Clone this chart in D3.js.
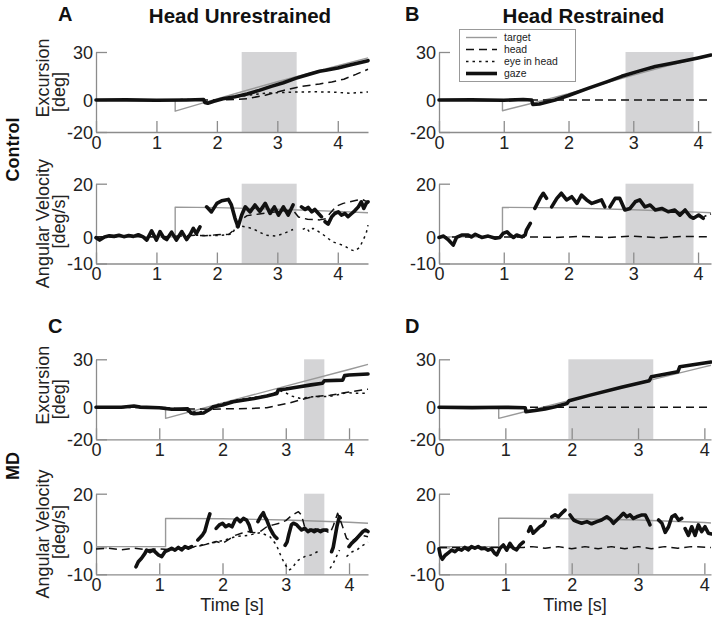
<!DOCTYPE html>
<html>
<head>
<meta charset="utf-8">
<script src="https://cdn.jsdelivr.net/npm/d3@7"></script>
<style>
  html, body { margin: 0; padding: 0; background: #fff; }
  svg { display: block; font-family: "Liberation Sans", Arial, Helvetica, sans-serif; }
</style>
</head>
<body>
<svg id="chart" width="712" height="619"></svg>
<script>
// ---------------- DATA ----------------
const xTicks = [0, 1, 2, 3, 4];
const excTicks = [-20, 0, 30];
const velTicks = [-10, 0, 20];
const excDomain = [-20, 30];
const velDomain = [-10, 20];
const xMaxes = { A: 4.5, B: 4.2, C: 4.3, D: 4.1 };
const shadeA = [2.41, 3.32];
const shadeB = [2.88, 3.93];
const shadeC = [3.29, 3.61];
const shadeD = [1.95, 3.23];
const legendLabels = ["target", "head", "eye in head", "gaze"];

// Panel A - excursion
const aExcTarget = [[0,0],[1.31,0],[1.31,-7],[2,0.7],[2.5,6.1],[3,11.4],[3.5,16.5],[4,21.4],[4.5,26.3]];
const aExcHead = [[0,0],[1.8,0],[2.0,0],[2.3,0.3],[2.5,0.8],[2.8,3],[3.1,6],[3.4,8.5],[3.7,10],[3.9,11.3],[4.1,13],[4.3,16],[4.5,19.2]];
const aExcEye = [[0,0],[1.78,0.3],[1.85,-2],[1.95,-0.8],[2.1,0.8],[2.3,1.7],[2.5,2.9],[2.8,4.2],[3.0,4.6],[3.3,5],[3.6,5.1],[3.9,5],[4.2,4.2],[4.5,5]];
const aExcGaze = [[0,0],[0.5,0.1],[1,-0.2],[1.5,0],[1.78,0.3],[1.8,-1.5],[1.85,-2],[1.95,-0.8],[2.1,0.8],[2.3,2],[2.5,3.7],[2.7,6],[2.9,8.5],[3.1,10.8],[3.3,13.5],[3.5,15.8],[3.7,18],[3.8,18.6],[4.0,20],[4.2,21.8],[4.5,24.6]];

// Panel A - velocity
const aVelTarget = [[0,0],[1.31,0],[1.31,11.2],[2,11],[3,10.4],[4,9.6],[4.5,9.1]];
const aVelHead = [[0,0],[0.5,0.2],[1.0,0],[1.4,0.3],[1.65,0.6],[1.8,0.4],[2.0,0.8],[2.2,1],[2.3,3],[2.4,6.5],[2.5,8],[2.7,8.6],[2.9,9.2],[3.1,9.8],[3.26,10],[3.35,7.5],[3.5,6.6],[3.7,6.4],[3.8,6.8],[3.87,8.8],[3.98,11.6],[4.09,12.6],[4.2,13.2],[4.31,13.8],[4.4,14.1],[4.45,13.6],[4.5,13.2]];
const aVelEye = [[1.65,0.6],[2.0,0.5],[2.25,1],[2.33,4.4],[2.47,3.8],[2.58,3.2],[2.69,2],[2.8,0.7],[2.97,0.3],[3.09,1.1],[3.21,2.3],[3.26,2.8],null,[3.42,2.8],[3.48,3.5],[3.53,1.9],[3.59,3.2],[3.64,2.6],[3.75,1.0],[3.84,-0.6],[3.92,-1.9],[4.03,-2.7],[4.12,-3.5],[4.2,-4.7],[4.28,-5.3],[4.36,-4],[4.42,-1.2],[4.47,1.3],[4.5,4.4]];
const aVelGaze = [[0,-0.3],[0.06,-1.2],[0.14,0],[0.22,0.4],[0.3,0.2],[0.38,0.6],[0.46,0.1],[0.54,0.5],[0.62,0.2],[0.7,0.8],[0.78,0],[0.84,-1.2],[0.92,2.3],[1.0,-1.2],[1.06,2],[1.12,-0.3],[1.17,-1],[1.25,1.8],[1.33,-1.2],[1.42,2],[1.5,-1],[1.56,1],[1.61,3.2],[1.66,1.2],[1.72,3.8],
  null,
  [1.83,11.3],[1.91,9.4],[2.0,12.6],[2.08,13.6],[2.19,14.1],[2.24,12],[2.3,7],[2.35,3.8],[2.41,8.2],[2.47,11.3],[2.55,9.4],[2.63,12],[2.71,9.6],[2.8,12.6],[2.88,8.8],[2.95,11.3],[3.02,8.2],[3.1,11.3],[3.18,8.2],[3.26,12],
  null,
  [3.40,11.3],[3.46,10.3],[3.51,11.1],[3.57,9.4],[3.62,10.3],[3.68,8.8],[3.73,7.6],
  null,
  [3.79,5.7],[3.84,4.8],[3.90,7.6],[3.95,8.8],[4.01,9.4],[4.06,8.2],[4.12,8.8],[4.17,7.6],[4.23,8.8],[4.28,9.8],[4.34,11.3],[4.39,13.2],[4.43,10.7],[4.47,12.6],[4.5,13.2]];

// Panel B - excursion
const bExcTarget = [[0,0],[0.98,0],[0.98,-6.7],[1.5,-1.4],[2,4],[2.5,9.8],[3,15.5],[3.5,21],[4,26],[4.2,28]];
const bExcHead = [[0,0],[4.2,0]];
const bExcGaze = [[0,0],[0.5,0.1],[1.0,-0.2],[1.3,0.3],[1.43,0],[1.45,-2.8],[1.55,-2.5],[1.79,0],[2.0,2.8],[2.3,7.3],[2.6,11.5],[2.82,14.8],[3.1,18.2],[3.34,21],[3.6,23],[3.85,25],[4.0,26.3],[4.2,28.1]];
const bExcEye = bExcGaze;

// Panel B - velocity
const bVelTarget = [[0,0],[0.98,0],[0.98,11.1],[2,10.9],[3,10.2],[4,9.3],[4.2,9.1]];
const bVelHead = [[0,0],[1.4,0],[1.8,-0.2],[2.2,0.2],[2.6,-0.2],[3.0,0.3],[3.4,-0.3],[3.8,0.2],[4.2,0]];
const bVelGaze = [[0,-0.2],[0.07,0.3],[0.14,-1],[0.22,-3.1],[0.27,-0.2],[0.35,0.7],[0.45,0.7],[0.5,0],[0.56,1],[0.66,-0.2],[0.76,0.3],[0.87,-0.5],[0.94,-0.2],[0.99,1.3],[1.05,1.9],[1.1,0.7],[1.15,-0.2],[1.2,0.7],[1.28,0],[1.33,0.7],[1.35,2.5],[1.41,5.1],
  null,
  [1.48,10.7],[1.56,14.5],[1.61,16.4],[1.66,14.5],
  null,
  [1.74,11.3],[1.82,14.5],[1.89,16.4],[1.97,13.9],[2.05,15.1],[2.13,12.6],[2.2,15.7],[2.28,13.9],[2.36,12.6],[2.43,13.2],[2.51,13.9],[2.56,11.3],
  null,
  [2.64,11.3],[2.72,14.5],[2.79,14.5],[2.87,10.1],[2.95,10.7],[3.03,13.2],[3.1,13.9],[3.18,11.3],[3.26,12],[3.34,10.1],[3.44,10.7],[3.54,9.45],[3.64,10.1],[3.72,8.2],[3.8,10.1],[3.88,7.6],[3.93,7],[4.01,8.2],[4.08,7]];
const bVelEye = [[4.0,8.0],[4.08,7.4],[4.14,8.2],[4.2,8.6]];

// Panel C - excursion
const cExcTarget = [[0,0],[1.1,0],[1.1,-6.9],[2,2.7],[3,13.2],[4,23.6],[4.3,26.8]];
const cExcHead = [[0,0],[1.0,0],[1.2,-0.8],[1.5,-1],[1.8,-1.2],[2.0,-1],[2.4,-0.8],[2.7,-0.3],[2.9,1.5],[3.07,2.8],[3.22,4.5],[3.43,6.6],[3.7,7.5],[3.95,9.2],[4.3,11.3]];
const cExcEye = [[0,0],[1.0,-0.3],[1.2,-0.5],[1.5,-3],[1.75,-2.5],[1.85,1],[2.2,4.4],[2.5,6.2],[2.7,7.3],[2.85,9.5],[2.91,10.5],[3.0,9],[3.1,7],[3.22,5.6],[3.43,6.6],[3.7,6.8],[3.9,8.5],[3.95,9.2],[4.1,8.8],[4.3,8.7]];
const cExcGaze = [[0,0],[0.4,0],[0.6,0.8],[0.7,0.1],[1.0,-0.3],[1.2,-1.2],[1.45,-1],[1.5,-3.5],[1.55,-4],[1.7,-3.6],[1.78,-1.7],[1.86,0.4],[2.0,1.5],[2.17,3.5],[2.5,5.5],[2.7,7.1],[2.86,8.7],[2.88,10.8],[3.0,11.4],[3.22,12.9],[3.4,14],[3.58,15],[3.61,16.6],[3.9,17],[3.93,19.8],[4.0,20.2],[4.3,20.8]];

// Panel C - velocity
const cVelTarget = [[0,0.3],[1.1,0.3],[1.1,10.8],[2,10.7],[3,10.2],[4,9.4],[4.3,9.0]];
const cVelHead = [[0,-0.6],[0.2,-0.3],[0.4,-0.9],[0.6,-0.3],[0.8,-0.9],[1.0,-0.5],[1.2,-0.9],[1.4,-0.3],[1.6,0.3],[1.8,1.5],[1.9,2.2],[2.0,1.5],[2.1,3],[2.2,4.5],[2.3,5.3],[2.4,5.9],[2.5,5.5],[2.6,6],[2.7,7.7],[2.8,8.4],[2.9,9],[3.0,10],[3.1,12],[3.2,13.3],[3.25,12],[3.3,7.5],[3.4,6.5],[3.5,7.1],[3.6,6.5],[3.7,5.3],[3.75,8],[3.82,12.7],[3.88,9],[3.96,3.4],[4.04,2.2],[4.17,4.6],[4.3,4]];
const cVelEye = [[1.55,0.3],[1.8,1.5],[2.0,2.5],[2.2,4],[2.4,4.5],[2.6,5.5],[2.75,4],[2.85,1],[2.92,-3],[2.98,-6],[3.05,-8.4],[3.1,-7.8],[3.15,-6],[3.2,-4.7],[3.3,-3.4],[3.4,-2.8],[3.5,-1.6],[3.56,-1],
  null,
  [3.7,-7.8],[3.75,-6],[3.8,-3.4],[3.85,-1],
  null,
  [3.96,-3.4],[4.05,-1.6],[4.12,-1],[4.2,0.5],[4.3,2]];
const cVelGaze = [[0.632,-7.2],[0.669,-5.3],[0.72,-4],[0.774,-2.2],[0.8,-1],[0.853,-1.6],[0.906,-1],[0.96,-2.2],[0.985,-2.8],[1.04,-3.4],[1.09,-1.6],[1.143,-1],[1.196,-0.3],[1.249,-1],[1.302,0],[1.354,-0.9],[1.407,0.3],[1.459,-0.3],[1.512,0.3],
  null,
  [1.61,2.8],[1.64,3.5],[1.68,4.5],[1.72,6],[1.76,9.5],[1.8,12.5],
  null,
  [1.9,7.1],[1.95,8.4],[2.0,9],[2.05,7.7],[2.1,8.4],[2.15,7.7],[2.2,10.2],[2.23,10.8],[2.28,9.6],[2.33,10.8],[2.38,10.2],[2.42,8.4],[2.45,6],
  null,
  [2.56,9.6],[2.6,11.4],[2.645,12.9],[2.67,11.4],[2.7,10.2],[2.75,7.1],[2.8,5],[2.83,4],[2.86,3.4],
  null,
  [2.99,0.8],[3.02,2],[3.05,5],[3.09,8.5],[3.12,9],[3.17,8.5],[3.2,7.7],[3.25,6.5],[3.3,7.1],[3.35,5.9],[3.4,6.5],[3.45,5.9],[3.5,6.5],[3.55,5.9],[3.6,6.5],[3.65,6.5],
  null,
  [3.725,-1.6],[3.75,0],[3.78,4],[3.81,8],[3.847,11.4],[3.86,11],
  null,
  [4.0,0.3],[4.04,1.5],[4.1,2.8],[4.17,4.6],[4.22,5.9],[4.26,6.5],[4.3,5.9]];

// Panel D - excursion
const dExcTarget = [[0,0],[0.9,0],[0.9,-6.9],[2,4.6],[3,15.1],[4,25.3],[4.1,26.3]];
const dExcHead = [[0,0],[4.1,0]];
const dExcGaze = [[0,0],[0.5,-0.2],[1.0,0],[1.3,-0.3],[1.31,-2.7],[1.45,-2],[1.6,-1],[1.75,0.4],[1.93,2.4],[1.96,4.1],[2.25,7.3],[2.75,12.5],[3.17,16.6],[3.2,19.1],[3.6,22.2],[3.63,25.4],[4.1,28.3]];
const dExcEye = dExcGaze;

// Panel D - velocity
const dVelTarget = [[0,0.3],[0.9,0.3],[0.9,10.9],[2,10.7],[3,10.2],[4,9.3],[4.1,9.1]];
const dVelHead = [[0,0],[1.27,0],[1.4,0.3],[1.6,-0.3],[1.8,0.3],[2.0,-0.5],[2.2,0.3],[2.4,-0.5],[2.6,0.3],[2.8,-0.5],[3.0,0.3],[3.2,-0.5],[3.4,0.3],[3.6,-0.3],[3.8,0.3],[4.1,0]];
const dVelGaze = [[0,-0.5],[0.02,-3],[0.05,-4.4],[0.09,-3],[0.14,-2],[0.19,-1],[0.24,-1.6],[0.29,-0.5],[0.34,-1],[0.39,0],[0.44,-0.9],[0.49,0.3],[0.54,-0.3],[0.59,0.3],[0.64,-0.5],[0.69,-0.3],[0.74,-1],[0.79,-0.5],[0.84,-2.2],[0.87,-2.8],[0.92,-0.3],[0.97,0.9],[1.02,-1],[1.07,1.5],[1.12,-0.3],[1.17,-0.9],[1.22,0.9],[1.27,2],
  null,
  [1.35,6],[1.38,7.7],[1.42,5.3],[1.47,6.5],[1.52,7.7],[1.57,8.4],[1.6,9.6],
  null,
  [1.7,11.4],[1.75,12.1],[1.8,11.4],[1.85,12.7],[1.9,13.9],
  null,
  [1.975,12.1],[2.03,10.2],[2.08,9.6],[2.15,9],[2.23,9.6],[2.3,8.8],[2.38,9.6],[2.45,10.2],[2.53,11.4],[2.58,10.5],[2.63,9],[2.68,10.2],[2.73,11.4],[2.78,12.7],[2.83,11.4],[2.88,12.1],[2.93,10.8],[2.98,11.4],[3.06,12.1],[3.11,12.1],[3.16,9.6],[3.18,8.4],
  null,
  [3.31,10.2],[3.36,9],[3.41,5.6],[3.46,7.7],[3.51,11.4],[3.56,12.1],[3.61,10.2],[3.66,10.8],
  null,
  [3.71,7],[3.76,4.5],[3.81,7.7],[3.86,4.5],[3.91,8.4],[3.96,5.9],[4.01,7.7],[4.06,5.3],[4.11,5]];
const dVelEye = dVelGaze;

// ---------------- LAYOUT / STYLE ----------------
const svg = d3.select("#chart");
const FONT = "'Liberation Sans', Arial, Helvetica, sans-serif";
const plotW = 272;
const colX = [96, 439];
const rowsY = {
  exc: [[52, 132], [359.3, 439.3]],
  vel: [[183.7, 263.5], [493.7, 574.3]]
};
const styles = {
  target: { stroke: "#999999", width: 1.4, dash: null },
  head:   { stroke: "#111111", width: 1.5, dash: "8,5" },
  eye:    { stroke: "#111111", width: 1.5, dash: "2.5,4" },
  gaze:   { stroke: "#111111", width: 3.6, dash: null }
};

const panels = [
  { col: 0, row: 0, kind: "exc", xmax: xMaxes.A, shade: shadeA, target: aExcTarget, head: aExcHead, eye: aExcEye, gaze: aExcGaze },
  { col: 0, row: 0, kind: "vel", xmax: xMaxes.A, shade: shadeA, target: aVelTarget, head: aVelHead, eye: aVelEye, gaze: aVelGaze },
  { col: 1, row: 0, kind: "exc", xmax: xMaxes.B, shade: shadeB, target: bExcTarget, head: bExcHead, eye: bExcEye, gaze: bExcGaze },
  { col: 1, row: 0, kind: "vel", xmax: xMaxes.B, shade: shadeB, target: bVelTarget, head: bVelHead, eye: bVelEye, gaze: bVelGaze },
  { col: 0, row: 1, kind: "exc", xmax: xMaxes.C, shade: shadeC, target: cExcTarget, head: cExcHead, eye: cExcEye, gaze: cExcGaze },
  { col: 0, row: 1, kind: "vel", xmax: xMaxes.C, shade: shadeC, target: cVelTarget, head: cVelHead, eye: cVelEye, gaze: cVelGaze },
  { col: 1, row: 1, kind: "exc", xmax: xMaxes.D, shade: shadeD, target: dExcTarget, head: dExcHead, eye: dExcEye, gaze: dExcGaze },
  { col: 1, row: 1, kind: "vel", xmax: xMaxes.D, shade: shadeD, target: dVelTarget, head: dVelHead, eye: dVelEye, gaze: dVelGaze }
];

panels.forEach(p => {
  const x0 = colX[p.col];
  const [yTop, yBot] = rowsY[p.kind][p.row];
  const dom = p.kind === "exc" ? excDomain : velDomain;
  const ticks = p.kind === "exc" ? excTicks : velTicks;
  const x = d3.scaleLinear().domain([0, p.xmax]).range([x0, x0 + plotW]);
  const y = d3.scaleLinear().domain(dom).range([yBot, yTop]);
  const g = svg.append("g");

  g.append("rect")
    .attr("x", x(p.shade[0])).attr("width", x(p.shade[1]) - x(p.shade[0]))
    .attr("y", y(dom[1])).attr("height", y(dom[0]) - y(dom[1]))
    .attr("fill", "#d4d4d6");

  const xa = g.append("g").attr("transform", `translate(0,${yBot})`)
    .call(d3.axisBottom(x).tickValues(xTicks).tickFormat(d3.format("d")).tickSize(-11).tickSizeOuter(0).tickPadding(4));
  const ya = g.append("g").attr("transform", `translate(${x0},0)`)
    .call(d3.axisLeft(y).tickValues(ticks).tickFormat(d => String(d)).tickSize(-11).tickSizeOuter(0).tickPadding(3));
  [xa, ya].forEach(a => {
    a.attr("font-family", null).attr("font-size", null);
    a.select(".domain").attr("stroke", "#8c8c8c").attr("stroke-width", 1.3);
    a.selectAll(".tick line").attr("stroke", "#8c8c8c").attr("stroke-width", 1.3);
    a.selectAll(".tick text").attr("fill", "#222").style("font-family", FONT).style("font-size", "18px");
  });
  ya.selectAll(".tick text").attr("dy", "0.36em");

  const line = d3.line().defined(d => d != null).x(d => x(d[0])).y(d => y(d[1]));
  ["target", "head", "eye", "gaze"].forEach(k => {
    const s = styles[k];
    g.append("path").datum(p[k]).attr("d", line)
      .attr("fill", "none").attr("stroke", s.stroke).attr("stroke-width", s.width)
      .attr("stroke-dasharray", s.dash).attr("stroke-linejoin", "round")
      .attr("stroke-linecap", k === "gaze" ? "round" : "butt");
  });

  // y labels (column 0 only)
  if (p.col === 0) {
    const cy = (yTop + yBot) / 2;
    const lines = p.kind === "exc" ? [["Excursion", cy - 14, 48.5], ["[deg]", cy, 65]]
                                   : [["Angular Velocity", cy, 49], ["[deg/s]", cy - 2, 65]];
    lines.forEach(([t, yy, xx]) => {
      svg.append("text").attr("transform", `translate(${xx},${yy}) rotate(-90)`)
        .attr("text-anchor", "middle").style("font-family", FONT).style("font-size", "18px")
        .attr("fill", "#222").text(t);
    });
  }
  // time label
  if (p.row === 1 && p.kind === "vel") {
    svg.append("text").attr("x", x0 + plotW / 2).attr("y", 611)
      .attr("text-anchor", "middle").style("font-family", FONT).style("font-size", "18px")
      .attr("fill", "#222").text("Time [s]");
  }
});

// Panel letters and titles
const letters = [["A", 58, 21], ["B", 405, 21], ["C", 48, 333], ["D", 405, 333]];
letters.forEach(([t, xx, yy]) => {
  svg.append("text").attr("x", xx).attr("y", yy).style("font-family", FONT)
    .style("font-size", "20px").style("font-weight", "bold").attr("fill", "#111").text(t);
});
const titles = [["Head Unrestrained", 240, 22.5], ["Head Restrained", 583.5, 22.5]];
titles.forEach(([t, xx, yy]) => {
  svg.append("text").attr("x", xx).attr("y", yy).attr("text-anchor", "middle").style("font-family", FONT)
    .style("font-size", "20.5px").style("font-weight", "bold").attr("fill", "#111").text(t);
});
const rowLabels = [["Control", 149.5], ["MD", 466]];
rowLabels.forEach(([t, yy]) => {
  svg.append("text").attr("transform", `translate(19,${yy}) rotate(-90)`).attr("text-anchor", "middle")
    .style("font-family", FONT).style("font-size", "18px").style("font-weight", "bold").attr("fill", "#111").text(t);
});

// Legend (panel B)
const lg = svg.append("g");
lg.append("rect").attr("x", 459.5).attr("y", 29.5).attr("width", 116).attr("height", 52)
  .attr("fill", "#fff").attr("stroke", "#999").attr("stroke-width", 1);
const legYs = [37.5, 49.5, 61.5, 73.5];
["target", "head", "eye", "gaze"].forEach((k, i) => {
  const s = styles[k];
  lg.append("line").attr("x1", 466).attr("x2", 497).attr("y1", legYs[i]).attr("y2", legYs[i])
    .attr("stroke", s.stroke).attr("stroke-width", s.width).attr("stroke-dasharray", s.dash);
  lg.append("text").attr("x", 504).attr("y", legYs[i] + 3.2).style("font-family", FONT)
    .style("font-size", "10.4px").attr("fill", "#222").text(legendLabels[i]);
});
</script>
</body>
</html>
